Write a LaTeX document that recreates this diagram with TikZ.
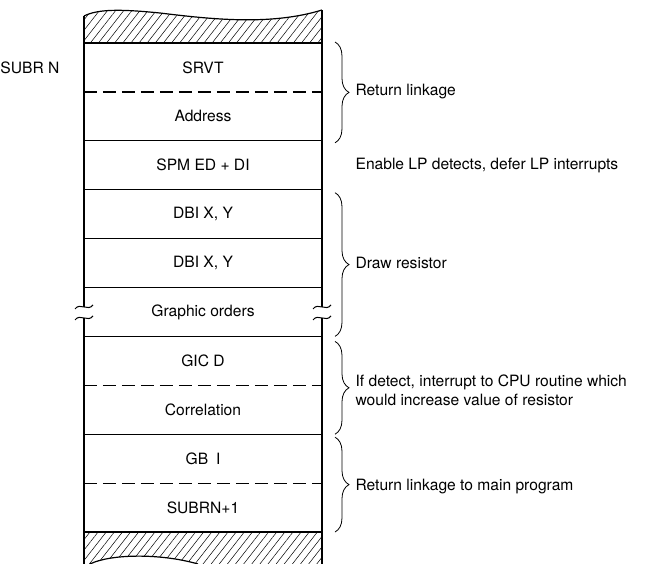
\documentclass[tikz,border=0pt]{standalone}
\usepackage{fontspec}
\setmainfont{TeX Gyre Heros}
\usetikzlibrary{positioning, decorations.pathreplacing, patterns.meta}

\tikzset{
	cell/.style={minimum width=119pt, minimum height=24.45pt, inner sep=0pt, outer sep=0pt},
	note/.style={anchor=west, inner sep=0pt},
	curly/.style={decorate, decoration={brace, amplitude=7pt}, line width=0.4pt},
	hatch/.style={pattern={Lines[angle=52, distance=3.2pt, line width=0.25pt]}},
	dashsep/.style={dash pattern=on 6.5pt off 3pt},
	brk/.pic={\draw (-9,2) .. controls (-4,-5) and (4,5) .. (9,-2);}
}

\begin{document}
\begin{tikzpicture}[x=0.5pt, y=-0.5pt, font=\fontsize{7.8}{9.2}\selectfont, line width=0.6pt]
	\useasboundingbox (0,0) rectangle (645,564);
	% hatched ends
	\fill[hatch] (84,16) .. controls (98,9) and (120,9) .. (160,13) .. controls (210,19) and (270,26) .. (322,10) -- (322,43) -- (84,43) -- cycle;
	\draw (84,16) .. controls (98,9) and (120,9) .. (160,13) .. controls (210,19) and (270,26) .. (322,10);
	\fill[hatch] (84,532) -- (322,532) -- (322,564) -- (198,564) .. controls (160,553) and (110,554) .. (90,564) -- (84,564) -- cycle;
	\draw (90,564) .. controls (110,554) and (160,553) .. (198,564);
	% storage cells
	\node[cell] (srvt) at (203,67.45) {SRVT};
	\node[cell, below=0pt of srvt] (addr) {Address};
	\node[cell, below=0pt of addr] (spm) {SPM ED + DI};
	\node[cell, below=0pt of spm] (dbia) {DBI X, Y};
	\node[cell, below=0pt of dbia] (dbib) {DBI X, Y};
	\node[cell, below=0pt of dbib] (gfx) {Graphic orders};
	\node[cell, below=0pt of gfx] (gic) {GIC D};
	\node[cell, below=0pt of gic] (corr) {Correlation};
	\node[cell, below=0pt of corr] (gb) {GB\enspace I};
	\node[cell, below=0pt of gb] (subr) {SUBRN+1};
	\node[anchor=east, inner sep=0pt] (subrn) at ([xshift=-12pt]srvt.west) {SUBR N};
	% separators
	\draw (srvt.north west) -- (srvt.north east);
	\foreach \c/\ls in {srvt/dashsep, addr/solid, spm/solid, dbia/solid, dbib/solid, gfx/solid, gic/dashsep, corr/solid, gb/dashsep, subr/solid}{
		\draw[\ls] (\c.south west) -- (\c.south east);
	}
	% side walls, broken at the graphic orders
	\coordinate (lbt) at ([yshift=2.5pt]gfx.west);
	\coordinate (lbb) at ([yshift=-3pt]gfx.west);
	\coordinate (rbt) at ([yshift=2.5pt]gfx.east);
	\coordinate (rbb) at ([yshift=-3pt]gfx.east);
	\draw (84,16) -- (lbt);
	\draw (lbb) -- (84,564);
	\draw (322,10) -- (rbt);
	\draw (rbb) -- (322,564);
	\foreach \p in {lbt, lbb, rbt, rbb}{
		\pic[line width=0.5pt] at (\p) {brk};
	}
	% braces and remarks
	\draw[curly] ([shift={(6.5pt,0.5pt)}]srvt.north east) -- ([shift={(6.5pt,-1pt)}]addr.south east);
	\draw[curly] ([shift={(6.5pt,-1.5pt)}]dbia.north east) -- ([shift={(6.5pt,0pt)}]gfx.south east);
	\draw[curly] ([shift={(6.5pt,-2.5pt)}]gic.north east) -- ([shift={(6.5pt,0pt)}]corr.south east);
	\draw[curly] ([shift={(6.5pt,-1.5pt)}]gb.north east) -- ([shift={(6.5pt,0pt)}]subr.south east);
	\node[note] (ret) at ([xshift=16.5pt]srvt.south east) {Return linkage};
	\node[note] (lp) at ([xshift=16.5pt]spm.east) {Enable LP detects, defer LP interrupts};
	\node[note] (drw) at ([xshift=16.5pt]dbib.east) {Draw resistor};
	\node[note, align=left] (cpu) at ([shift={(16.5pt,-2.5pt)}]gic.south east) {If detect, interrupt to CPU routine which\\would increase value of resistor};
	\node[note] (main) at ([shift={(16.5pt,-1.5pt)}]gb.south east) {Return linkage to main program};
\end{tikzpicture}
\end{document}
